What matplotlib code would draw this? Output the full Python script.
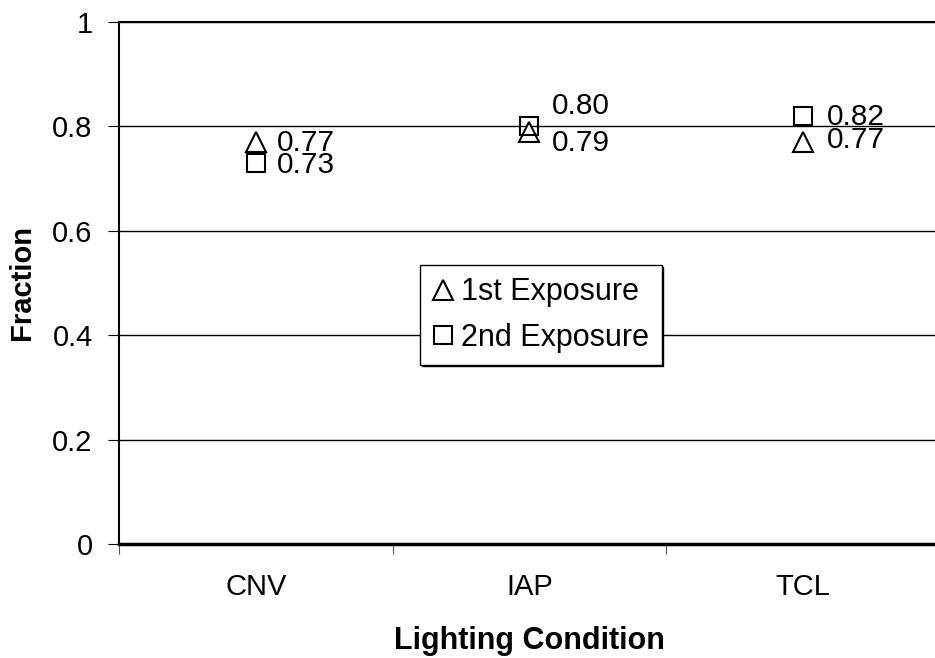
import matplotlib
matplotlib.use("Agg")
import matplotlib.pyplot as plt

plt.rcParams['font.family'] = ['Liberation Sans', 'DejaVu Sans']

conditions = ["CNV", "IAP", "TCL"]
first_exposure = [0.77, 0.79, 0.77]
second_exposure = [0.73, 0.80, 0.82]

# label offsets in pixels (dx, dy to baseline) per point
first_offsets = [(21, -8.5), (23, -19.5), (24, -6)]
second_offsets = [(21, -10.5), (23, 12.5), (24, -9.5)]

FS = 21

fig = plt.figure(figsize=(9.35, 6.58), dpi=100)
ax = fig.add_axes([0.1273, 0.1733, 0.8777, 0.7933])

xs = [i + 0.5 for i in range(len(conditions))]
ax.plot(xs, first_exposure, linestyle='none', marker='^', markersize=14,
        markerfacecolor='white', markeredgecolor='black', markeredgewidth=1.5,
        label='1st Exposure', zorder=3)
ax.plot(xs, second_exposure, linestyle='none', marker='s', markersize=12.5,
        markerfacecolor='none', markeredgecolor='black', markeredgewidth=1.5,
        label='2nd Exposure', zorder=4)

# data labels
for x, v, off in zip(xs, first_exposure, first_offsets):
    ax.annotate(f"{v:.2f}", (x, v), xytext=off, textcoords='offset pixels',
                ha='left', va='baseline', fontsize=FS + 0.5)
for x, v, off in zip(xs, second_exposure, second_offsets):
    ax.annotate(f"{v:.2f}", (x, v), xytext=off, textcoords='offset pixels',
                ha='left', va='baseline', fontsize=FS + 0.5)

ax.set_xlim(0, 3)
ax.set_ylim(0, 1)
ax.set_yticks([0, 0.2, 0.4, 0.6, 0.8, 1])
ax.set_yticklabels(["0", "0.2", "0.4", "0.6", "0.8", "1"])
ax.yaxis.grid(True, color='black', linewidth=1)
ax.set_axisbelow(True)

# category boundaries as major ticks, names on minor ticks
ax.set_xticks([0, 1, 2, 3])
ax.set_xticklabels([])
ax.set_xticks(xs, minor=True)
ax.set_xticklabels(conditions, minor=True)
ax.tick_params(axis='x', which='major', length=7, direction='out', color='#555555')
ax.tick_params(axis='x', which='minor', length=0, pad=21, labelsize=FS)
ax.tick_params(axis='y', length=8, direction='out', labelsize=FS, pad=11)

ax.spines['right'].set_visible(False)
ax.spines['left'].set_linewidth(1.5)
ax.spines['bottom'].set_linewidth(2.5)
ax.spines['top'].set_linewidth(1.5)

ax.set_ylabel("Fraction", fontsize=FS, fontweight='bold', labelpad=12)
ax.set_xlabel("Lighting Condition", fontsize=22, fontweight='bold', labelpad=18)

leg = ax.legend(loc='upper left', bbox_to_anchor=(0.367, 0.534), fontsize=22,
                frameon=True, fancybox=False,
                shadow={'ox': 1, 'oy': -1, 'color': 'black', 'alpha': 1},
                handlelength=0.7, handletextpad=0.25, borderpad=0.4,
                labelspacing=0.5, borderaxespad=0)
leg.get_frame().set_edgecolor('black')
leg.get_frame().set_linewidth(1)

fig.savefig("out.png", dpi=100)
